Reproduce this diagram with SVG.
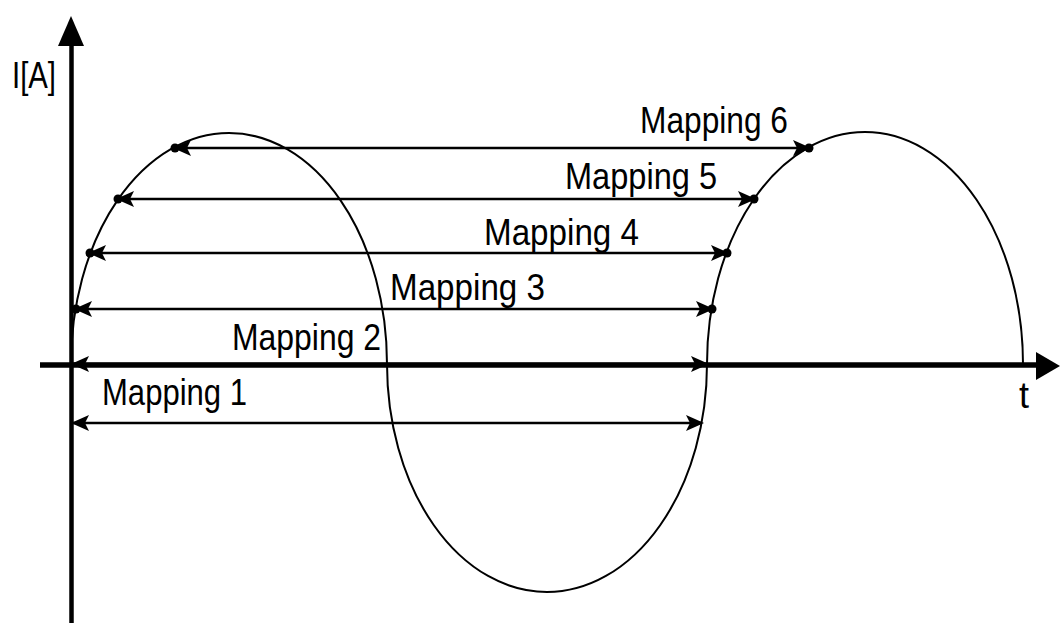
<svg xmlns="http://www.w3.org/2000/svg" width="1060" height="623" viewBox="0 0 1060 623">
<style>
  .lbl { font-family: "Liberation Sans", Arial, sans-serif; font-size: 36px; fill: #000; }
  .map { stroke: #000; stroke-width: 2.5; fill: none; marker-start: url(#ah); marker-end: url(#ah); }
  .dot { fill: #000; }
  .axis { stroke: #000; fill: none; }
</style>
<defs>
  <marker id="ah" viewBox="0 0 18 18" refX="16" refY="9" markerWidth="18" markerHeight="18" markerUnits="userSpaceOnUse" orient="auto-start-reverse">
    <path d="M0,1 L18,9 L0,17 L4,9 z" fill="#000"/>
  </marker>
</defs>
<rect width="1060" height="623" fill="#fff"/>

<g id="axes">
  <line class="axis" x1="71.5" y1="40" x2="71.5" y2="623" stroke-width="4.5"/>
  <path d="M71,16 L84,46 L58,46 z" fill="#000"/>
  <line class="axis" x1="40" y1="365" x2="1040" y2="365" stroke-width="5.5"/>
  <path d="M1060,366 L1036,352 L1036,380 z" fill="#000"/>
  <text class="lbl" x="12" y="88" font-size="38" textLength="44" lengthAdjust="spacingAndGlyphs">I[A]</text>
  <text class="lbl" x="1019" y="408">t</text>
</g>

<g id="curve">
  <path d="M71,364 A158,231 0 0 1 387,364 A160,228 0 0 0 707,364 A158,232 0 0 1 1023,364" fill="none" stroke="#000" stroke-width="2"/>
</g>

<g id="connectors">
  <line class="map" x1="73" y1="423" x2="702" y2="423"/>
  <line class="map" x1="73" y1="364" x2="707" y2="364"/>
  <line class="map" x1="76" y1="309" x2="712" y2="309"/>
  <line class="map" x1="90" y1="253" x2="727" y2="253"/>
  <line class="map" x1="118" y1="199" x2="754" y2="199"/>
  <line class="map" x1="175" y1="148" x2="809" y2="148"/>
</g>

<g id="points">
  <circle class="dot" cx="76" cy="309" r="4.5"/>
  <circle class="dot" cx="712" cy="309" r="4.5"/>
  <circle class="dot" cx="90" cy="253" r="4.5"/>
  <circle class="dot" cx="727" cy="253" r="4.5"/>
  <circle class="dot" cx="118" cy="199" r="4.5"/>
  <circle class="dot" cx="754" cy="199" r="4.5"/>
  <circle class="dot" cx="175" cy="148" r="4.5"/>
  <circle class="dot" cx="809" cy="148" r="4.5"/>
</g>

<g id="mapping1"><text class="lbl" x="102" y="405" textLength="145" lengthAdjust="spacingAndGlyphs">Mapping 1</text></g>
<g id="mapping2"><text class="lbl" x="232" y="350" textLength="149" lengthAdjust="spacingAndGlyphs">Mapping 2</text></g>
<g id="mapping3"><text class="lbl" x="390" y="300" textLength="155" lengthAdjust="spacingAndGlyphs">Mapping 3</text></g>
<g id="mapping4"><text class="lbl" x="484" y="245" textLength="155" lengthAdjust="spacingAndGlyphs">Mapping 4</text></g>
<g id="mapping5"><text class="lbl" x="565" y="189" textLength="152" lengthAdjust="spacingAndGlyphs">Mapping 5</text></g>
<g id="mapping6"><text class="lbl" x="640" y="133" textLength="148" lengthAdjust="spacingAndGlyphs">Mapping 6</text></g>
</svg>
